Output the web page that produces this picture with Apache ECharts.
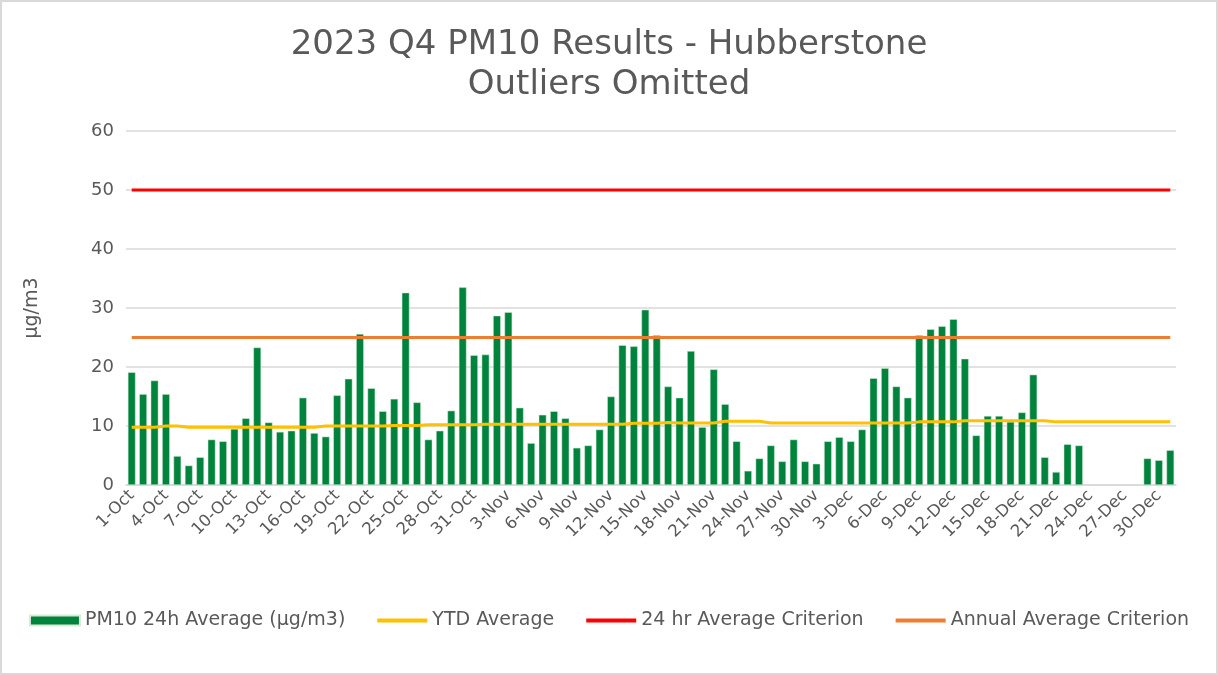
<!DOCTYPE html>
<html>
<head>
<meta charset="utf-8">
<title>2023 Q4 PM10 Results - Hubberstone</title>
<script src="https://cdn.jsdelivr.net/npm/echarts@6/dist/echarts.min.js"></script>
<style>
    html, body { margin: 0; padding: 0; background: #ffffff; }
    #chart {
        width: 1214px;
        height: 671px;
        border: 2px solid #d9d9d9;
    }
</style>
</head>
<body>
<div id="chart"></div>
<script>
// Daily category labels, 1-Oct to 31-Dec 2023
const MONTHS = [['Oct', 31], ['Nov', 30], ['Dec', 31]];
const categories = [];
MONTHS.forEach(([name, days]) => {
    for (let d = 1; d <= days; d++) categories.push(d + '-' + name);
});

// PM10 24h average (µg/m3); null = no data
const pm10Values = [
    19.1, 15.4, 17.7, 15.4, 4.9, 3.3, 4.7, 7.7, 7.4, 9.5,
    11.3, 23.3, 10.6, 9.0, 9.2, 14.8, 8.8, 8.2, 15.2, 18.0,
    25.6, 16.4, 12.5, 14.6, 32.6, 14.0, 7.7, 9.2, 12.6, 33.5,
    22.0, 22.1, 28.7, 29.3, 13.1, 7.1, 11.9, 12.5, 11.3, 6.3,
    6.7, 9.4, 15.0, 23.7, 23.5, 29.7, 25.4, 16.7, 14.8, 22.7,
    9.8, 19.6, 13.7, 7.4, 2.4, 4.5, 6.7, 4.0, 7.7, 4.0,
    3.6, 7.4, 8.1, 7.4, 9.4, 18.1, 19.8, 16.7, 14.8, 25.4,
    26.4, 26.9, 28.1, 21.4, 8.4, 11.7, 11.7, 10.7, 12.3, 18.7,
    4.7, 2.2, 6.9, 6.7, null, null, null, null, null, 4.5,
    4.2, 5.9
];

// Year-to-date average (µg/m3)
const ytdValues = [
    9.8, 9.8, 9.8, 10.0, 10.0, 9.8, 9.8, 9.8, 9.8, 9.8,
    9.8, 9.8, 9.8, 9.8, 9.8, 9.8, 9.8, 10.0, 10.0, 10.0,
    10.0, 10.0, 10.0, 10.1, 10.1, 10.1, 10.2, 10.2, 10.2, 10.2,
    10.2, 10.3, 10.3, 10.3, 10.3, 10.3, 10.3, 10.3, 10.3, 10.3,
    10.3, 10.3, 10.3, 10.3, 10.45, 10.45, 10.45, 10.6, 10.5, 10.5,
    10.5, 10.5, 10.8, 10.8, 10.8, 10.8, 10.5, 10.5, 10.5, 10.5,
    10.5, 10.5, 10.5, 10.5, 10.5, 10.5, 10.5, 10.5, 10.5, 10.7,
    10.7, 10.7, 10.7, 10.9, 10.9, 10.9, 10.9, 10.9, 10.9, 10.9,
    10.9, 10.7, 10.7, 10.7, 10.7, 10.7, 10.7, 10.7, 10.7, 10.7,
    10.7, 10.7
];

// Criteria (µg/m3)
const DAILY_CRITERION = 50;
const ANNUAL_CRITERION = 25;
const dailyCriterion = categories.map(() => DAILY_CRITERION);
const annualCriterion = categories.map(() => ANNUAL_CRITERION);

const yTicks = { min: 0, max: 60, interval: 10 };

const FONT = 'DejaVu Sans';
const TEXT = '#595959';
const GRID = '#d9d9d9';
// thin bar used as legend icon for the line series
const LINE_ICON = 'path://M0,0H50V4H0Z';

const chart = echarts.init(document.getElementById('chart'));

const option = {
    animation: false,
    textStyle: { fontFamily: FONT },
    title: {
        text: '2023 Q4 PM10 Results - Hubberstone\nOutliers Omitted',
        left: 'center',
        top: 18,
        textStyle: {
            fontFamily: FONT,
            fontSize: 34,
            fontWeight: 'normal',
            color: TEXT,
            lineHeight: 40
        }
    },
    grid: {
        left: 124,
        right: 40,
        top: 129,
        bottom: 188
    },
    legend: {
        bottom: 38,
        left: 'center',
        itemGap: 32,
        itemWidth: 50,
        itemHeight: 10,
        symbolKeepAspect: true,
        textStyle: { color: TEXT, fontSize: 19, fontFamily: FONT },
        data: [
            { name: 'PM10 24h Average (µg/m3)', icon: 'rect' },
            { name: 'YTD Average', icon: LINE_ICON },
            { name: '24 hr Average Criterion', icon: LINE_ICON },
            { name: 'Annual Average Criterion', icon: LINE_ICON }
        ]
    },
    xAxis: {
        type: 'category',
        data: categories,
        boundaryGap: true,
        axisLine: { lineStyle: { color: GRID, width: 1.5 } },
        axisTick: { interval: 2, length: 6, lineStyle: { color: GRID, width: 1.5 } },
        axisLabel: {
            interval: 2,
            rotate: 45,
            color: TEXT,
            fontSize: 16.5,
            margin: 8
        }
    },
    yAxis: {
        type: 'value',
        min: yTicks.min,
        max: yTicks.max,
        interval: yTicks.interval,
        name: 'µg/m3',
        nameLocation: 'middle',
        nameRotate: 90,
        nameGap: 84,
        nameTextStyle: { color: TEXT, fontSize: 19 },
        axisLine: { show: false },
        axisTick: { show: false },
        axisLabel: { color: TEXT, fontSize: 18, margin: 12 },
        splitLine: { lineStyle: { color: GRID, width: 1.5 } }
    },
    series: [
        {
            name: 'PM10 24h Average (µg/m3)',
            type: 'bar',
            data: pm10Values,
            barCategoryGap: '33%',
            itemStyle: { color: '#00843d', borderColor: '#d9ead9', borderWidth: 0.5 }
        },
        {
            name: 'YTD Average',
            type: 'line',
            data: ytdValues,
            symbol: 'none',
            lineStyle: { color: '#ffc000', width: 3 },
            itemStyle: { color: '#ffc000' },
            z: 3
        },
        {
            name: '24 hr Average Criterion',
            type: 'line',
            data: dailyCriterion,
            symbol: 'none',
            lineStyle: { color: '#ff0000', width: 3 },
            itemStyle: { color: '#ff0000' },
            z: 3
        },
        {
            name: 'Annual Average Criterion',
            type: 'line',
            data: annualCriterion,
            symbol: 'none',
            lineStyle: { color: '#ed7d31', width: 3 },
            itemStyle: { color: '#ed7d31' },
            z: 3
        }
    ]
};

chart.setOption(option);
window.addEventListener('resize', () => chart.resize());
</script>
</body>
</html>
